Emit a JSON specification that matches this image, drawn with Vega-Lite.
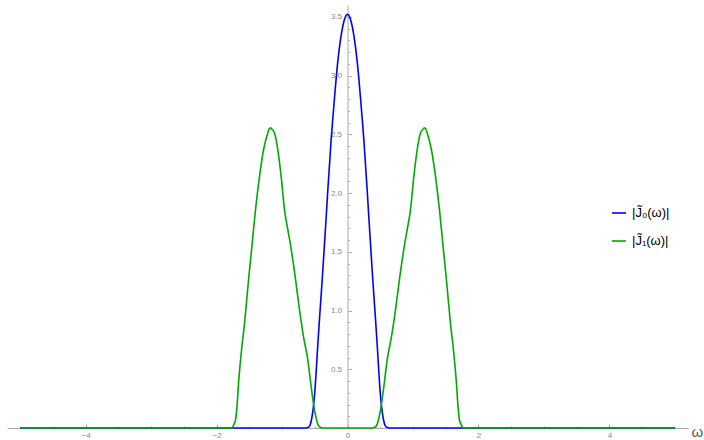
{
  "$schema": "https://vega.github.io/schema/vega-lite/v6.json",
  "autosize": {"type": "none"},
  "padding": {"left": 7, "top": 5, "right": 16, "bottom": 12},
  "width": 681,
  "height": 423,
  "config": {"view": {"stroke": null}, "font": "Liberation Sans"},
  "data": {"values": [
    {"w": -5.0, "v": 0, "s": "J0"},
    {"w": -0.66, "v": 0, "s": "J0"},
    {"w": -0.62, "v": 0.002, "s": "J0"},
    {"w": -0.6, "v": 0.006, "s": "J0"},
    {"w": -0.575, "v": 0.02, "s": "J0"},
    {"w": -0.55, "v": 0.07, "s": "J0"},
    {"w": -0.525, "v": 0.16, "s": "J0"},
    {"w": -0.5, "v": 0.30, "s": "J0"},
    {"w": -0.475, "v": 0.51, "s": "J0"},
    {"w": -0.45, "v": 0.74, "s": "J0"},
    {"w": -0.425, "v": 0.95, "s": "J0"},
    {"w": -0.4, "v": 1.15, "s": "J0"},
    {"w": -0.375, "v": 1.36, "s": "J0"},
    {"w": -0.35, "v": 1.58, "s": "J0"},
    {"w": -0.325, "v": 1.80, "s": "J0"},
    {"w": -0.3, "v": 2.03, "s": "J0"},
    {"w": -0.275, "v": 2.24, "s": "J0"},
    {"w": -0.25, "v": 2.45, "s": "J0"},
    {"w": -0.225, "v": 2.63, "s": "J0"},
    {"w": -0.2, "v": 2.80, "s": "J0"},
    {"w": -0.15, "v": 3.11, "s": "J0"},
    {"w": -0.1, "v": 3.33, "s": "J0"},
    {"w": -0.05, "v": 3.47, "s": "J0"},
    {"w": 0, "v": 3.52, "s": "J0"},
    {"w": 0.05, "v": 3.47, "s": "J0"},
    {"w": 0.1, "v": 3.33, "s": "J0"},
    {"w": 0.15, "v": 3.11, "s": "J0"},
    {"w": 0.2, "v": 2.80, "s": "J0"},
    {"w": 0.225, "v": 2.63, "s": "J0"},
    {"w": 0.25, "v": 2.45, "s": "J0"},
    {"w": 0.275, "v": 2.24, "s": "J0"},
    {"w": 0.3, "v": 2.03, "s": "J0"},
    {"w": 0.325, "v": 1.80, "s": "J0"},
    {"w": 0.35, "v": 1.58, "s": "J0"},
    {"w": 0.375, "v": 1.36, "s": "J0"},
    {"w": 0.4, "v": 1.15, "s": "J0"},
    {"w": 0.425, "v": 0.95, "s": "J0"},
    {"w": 0.45, "v": 0.74, "s": "J0"},
    {"w": 0.475, "v": 0.51, "s": "J0"},
    {"w": 0.5, "v": 0.30, "s": "J0"},
    {"w": 0.525, "v": 0.16, "s": "J0"},
    {"w": 0.55, "v": 0.07, "s": "J0"},
    {"w": 0.575, "v": 0.02, "s": "J0"},
    {"w": 0.6, "v": 0.006, "s": "J0"},
    {"w": 0.62, "v": 0.002, "s": "J0"},
    {"w": 0.66, "v": 0, "s": "J0"},
    {"w": 5.0, "v": 0, "s": "J0"},

    {"w": -5.0, "v": 0, "s": "J1"},
    {"w": -1.78, "v": 0, "s": "J1"},
    {"w": -1.76, "v": 0.003, "s": "J1"},
    {"w": -1.75, "v": 0.011, "s": "J1"},
    {"w": -1.735, "v": 0.03, "s": "J1"},
    {"w": -1.71, "v": 0.068, "s": "J1"},
    {"w": -1.684, "v": 0.21, "s": "J1"},
    {"w": -1.664, "v": 0.38, "s": "J1"},
    {"w": -1.638, "v": 0.551, "s": "J1"},
    {"w": -1.613, "v": 0.693, "s": "J1"},
    {"w": -1.583, "v": 0.835, "s": "J1"},
    {"w": -1.506, "v": 1.289, "s": "J1"},
    {"w": -1.455, "v": 1.573, "s": "J1"},
    {"w": -1.405, "v": 1.857, "s": "J1"},
    {"w": -1.344, "v": 2.14, "s": "J1"},
    {"w": -1.282, "v": 2.368, "s": "J1"},
    {"w": -1.217, "v": 2.51, "s": "J1"},
    {"w": -1.195, "v": 2.545, "s": "J1"},
    {"w": -1.176, "v": 2.555, "s": "J1"},
    {"w": -1.155, "v": 2.545, "s": "J1"},
    {"w": -1.115, "v": 2.51, "s": "J1"},
    {"w": -1.064, "v": 2.368, "s": "J1"},
    {"w": -1.013, "v": 2.14, "s": "J1"},
    {"w": -0.962, "v": 1.857, "s": "J1"},
    {"w": -0.911, "v": 1.687, "s": "J1"},
    {"w": -0.875, "v": 1.573, "s": "J1"},
    {"w": -0.799, "v": 1.289, "s": "J1"},
    {"w": -0.733, "v": 1.005, "s": "J1"},
    {"w": -0.672, "v": 0.778, "s": "J1"},
    {"w": -0.606, "v": 0.579, "s": "J1"},
    {"w": -0.555, "v": 0.352, "s": "J1"},
    {"w": -0.504, "v": 0.153, "s": "J1"},
    {"w": -0.478, "v": 0.082, "s": "J1"},
    {"w": -0.453, "v": 0.031, "s": "J1"},
    {"w": -0.417, "v": 0.006, "s": "J1"},
    {"w": -0.377, "v": 0, "s": "J1"},
    {"w": 0.377, "v": 0, "s": "J1"},
    {"w": 0.417, "v": 0.006, "s": "J1"},
    {"w": 0.453, "v": 0.031, "s": "J1"},
    {"w": 0.478, "v": 0.082, "s": "J1"},
    {"w": 0.504, "v": 0.153, "s": "J1"},
    {"w": 0.555, "v": 0.352, "s": "J1"},
    {"w": 0.606, "v": 0.579, "s": "J1"},
    {"w": 0.672, "v": 0.778, "s": "J1"},
    {"w": 0.733, "v": 1.005, "s": "J1"},
    {"w": 0.799, "v": 1.289, "s": "J1"},
    {"w": 0.875, "v": 1.573, "s": "J1"},
    {"w": 0.911, "v": 1.687, "s": "J1"},
    {"w": 0.962, "v": 1.857, "s": "J1"},
    {"w": 1.013, "v": 2.14, "s": "J1"},
    {"w": 1.064, "v": 2.368, "s": "J1"},
    {"w": 1.115, "v": 2.51, "s": "J1"},
    {"w": 1.155, "v": 2.545, "s": "J1"},
    {"w": 1.176, "v": 2.555, "s": "J1"},
    {"w": 1.195, "v": 2.545, "s": "J1"},
    {"w": 1.217, "v": 2.51, "s": "J1"},
    {"w": 1.282, "v": 2.368, "s": "J1"},
    {"w": 1.344, "v": 2.14, "s": "J1"},
    {"w": 1.405, "v": 1.857, "s": "J1"},
    {"w": 1.455, "v": 1.573, "s": "J1"},
    {"w": 1.506, "v": 1.289, "s": "J1"},
    {"w": 1.583, "v": 0.835, "s": "J1"},
    {"w": 1.613, "v": 0.693, "s": "J1"},
    {"w": 1.638, "v": 0.551, "s": "J1"},
    {"w": 1.664, "v": 0.38, "s": "J1"},
    {"w": 1.684, "v": 0.21, "s": "J1"},
    {"w": 1.71, "v": 0.068, "s": "J1"},
    {"w": 1.735, "v": 0.03, "s": "J1"},
    {"w": 1.75, "v": 0.011, "s": "J1"},
    {"w": 1.76, "v": 0.003, "s": "J1"},
    {"w": 1.78, "v": 0, "s": "J1"},
    {"w": 5.0, "v": 0, "s": "J1"}
  ]},
  "mark": {"type": "line", "interpolate": "monotone", "strokeWidth": 1.6, "clip": false},
  "encoding": {
    "x": {
      "field": "w", "type": "quantitative",
      "scale": {"domain": [-5.2, 5.2], "nice": false, "zero": false},
      "axis": {
        "values": [-5, -4.5, -4, -3.5, -3, -2.5, -2, -1.5, -1, -0.5, 0, 0.5, 1, 1.5, 2, 2.5, 3, 3.5, 4, 4.5, 5],
        "labelExpr": "datum.value % 2 === 0 ? format(datum.value, 'd') : ''",
        "labelOverlap": false, "labelFlush": false,
        "grid": false,
        "domainColor": "#aaaaaa", "tickColor": "#aaaaaa",
        "tickSize": {"condition": {"test": "datum.value % 2 === 0", "value": -4}, "value": -2},
        "labelPadding": 7, "labelFontSize": 8, "labelColor": "#888888",
        "title": "ω", "titleX": 684, "titleY": 3, "titleAlign": "left", "titleBaseline": "middle",
        "titleFontSize": 15, "titleFontWeight": "normal", "titleColor": "#555555", "titleAngle": 0
      }
    },
    "y": {
      "field": "v", "type": "quantitative",
      "scale": {"domain": [0, 3.6], "nice": false},
      "axis": {
        "offset": -340.5,
        "values": [0.1, 0.2, 0.3, 0.4, 0.5, 0.6, 0.7, 0.8, 0.9, 1.0, 1.1, 1.2, 1.3, 1.4, 1.5, 1.6, 1.7, 1.8, 1.9, 2.0, 2.1, 2.2, 2.3, 2.4, 2.5, 2.6, 2.7, 2.8, 2.9, 3.0, 3.1, 3.2, 3.3, 3.4, 3.5],
        "labelExpr": "abs(datum.value * 2 - round(datum.value * 2)) < 0.01 ? format(datum.value, '.1f') : ''",
        "labelOverlap": false, "labelFlush": false,
        "grid": false,
        "domainColor": "#aaaaaa", "tickColor": "#aaaaaa",
        "tickSize": {"condition": {"test": "abs(datum.value * 2 - round(datum.value * 2)) < 0.01", "value": -4}, "value": -2},
        "labelPadding": 10, "labelFontSize": 8, "labelColor": "#888888",
        "title": null
      }
    },
    "color": {
      "field": "s", "type": "nominal",
      "scale": {"domain": ["J0", "J1"], "range": ["#0000ff", "#00aa00"]},
      "legend": {
        "orient": "none", "legendX": 604, "legendY": 200,
        "title": null,
        "labelExpr": "datum.value === 'J0' ? '|J̃₀(ω)|' : '|J̃₁(ω)|'",
        "symbolType": "stroke", "symbolSize": 196, "symbolStrokeWidth": 1.6,
        "labelFontSize": 13, "labelColor": "#000000", "labelOffset": 5,
        "rowPadding": 13
      }
    }
  }
}
